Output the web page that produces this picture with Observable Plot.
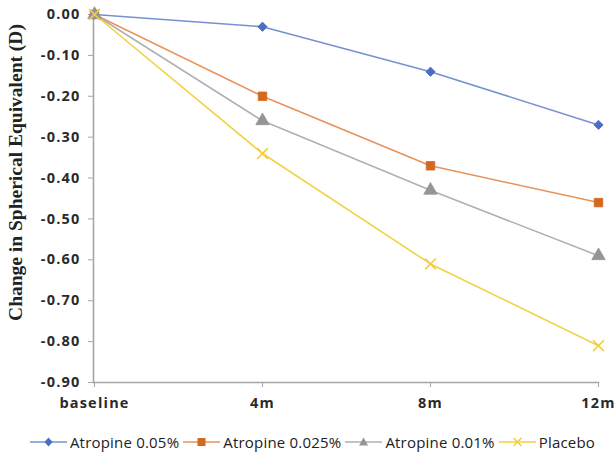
<!DOCTYPE html>
<html>
<head>
<meta charset="utf-8">
<script src="https://cdn.jsdelivr.net/npm/d3@7"></script>
<script src="https://cdn.jsdelivr.net/npm/@observablehq/plot@0.6"></script>
<style>
  body { margin: 0; background: #fff; width: 615px; overflow: hidden; }
  #legend { display: flex; justify-content: center; align-items: center; height: 34px;
    font-family: "Open Sans", sans-serif; font-size: 15px; color: #222; letter-spacing: 0.2px; margin-left: 10px; }
  .item { display: flex; align-items: center; margin: 0 2px; }
  .item svg { margin-right: 3px; }
</style>
</head>
<body>
<div id="chart"></div>
<div id="legend"></div>
<script>
const categories = ["baseline", "4m", "8m", "12m"];
const seriesNames = ["Atropine 0.05%", "Atropine 0.025%", "Atropine 0.01%", "Placebo"];
const atropine005 = [0, -0.03, -0.14, -0.27];
const atropine0025 = [0, -0.20, -0.37, -0.46];
const atropine001 = [0, -0.26, -0.43, -0.59];
const placebo = [0, -0.34, -0.61, -0.81];
const yTicks = [0, -0.1, -0.2, -0.3, -0.4, -0.5, -0.6, -0.7, -0.8, -0.9];
const yLabel = "Change in Spherical Equivalent (D)";

const lineColors = ["#7592d0", "#e6935c", "#b0b0b0", "#f3d146"];
const markColors = ["#4a6fc2", "#d2691e", "#959595", "#f2cd3a"];
const symbols = ["diamond2", "square", "triangle", "times"];
const radii = [4.2, 4.8, 5, 5];

const allValues = [atropine005, atropine0025, atropine001, placebo];
const data = [];
allValues.forEach((vals, s) => vals.forEach((v, i) => data.push({series: seriesNames[s], cat: categories[i], value: v})));

const marks = [
  Plot.frame({anchor: "left", stroke: "#a6a6a6", strokeWidth: 1.6}),
  Plot.frame({anchor: "bottom", stroke: "#a6a6a6", strokeWidth: 1.6}),
  Plot.axisY({ticks: yTicks, tickSize: 5, tickPadding: 8, tickFormat: d => d.toFixed(2), label: null,
    stroke: "#a6a6a6", fill: "#2a2a2a", fontSize: 14.5, fontWeight: "bold"}),
  Plot.axisX({tickSize: 5, tickPadding: 10, label: null, stroke: "#a6a6a6", fill: "#2a2a2a", fontSize: 14.5, fontWeight: "bold"}),
  Plot.text([yLabel], {frameAnchor: "left", textAnchor: "middle", dx: -78, dy: -26, rotate: -90, fontSize: 19.5, fontWeight: "bold",
    fontFamily: "Liberation Serif, serif", fill: "#222"})
];
seriesNames.forEach((name, s) => {
  const d = data.filter(r => r.series === name);
  marks.push(Plot.line(d, {x: "cat", y: "value", stroke: lineColors[s], strokeWidth: 1.6}));
});
seriesNames.forEach((name, s) => {
  const d = data.filter(r => r.series === name);
  const filled = symbols[s] !== "times";
  marks.push(Plot.dot(d, {x: "cat", y: "value", symbol: () => symbols[s], r: radii[s],
    fill: filled ? markColors[s] : "none", stroke: markColors[s], strokeWidth: filled ? 0.8 : 1.6}));
});

const chart = Plot.plot({
  width: 615,
  height: 425,
  marginTop: 14,
  marginBottom: 43,
  marginLeft: 93,
  marginRight: 17,
  style: {fontFamily: "Open Sans, sans-serif", fontSize: "14px", letterSpacing: "1.2px", background: "#fff"},
  x: {type: "point", domain: categories, padding: 0},
  y: {domain: [-0.9, 0]},
  symbol: {type: "identity"},
  marks
});
chart.querySelectorAll("text").forEach(t => { if (t.textContent === yLabel) t.setAttribute("letter-spacing", "0"); });
document.getElementById("chart").appendChild(chart);

const legend = document.getElementById("legend");
seriesNames.forEach((name, s) => {
  const item = document.createElement("div");
  item.className = "item";
  const w = 37;
  let shape;
  if (s === 0) shape = `<path d="M${w/2},1.5 L${w/2+4},6 L${w/2},10.5 L${w/2-4},6 Z" fill="${markColors[s]}"/>`;
  else if (s === 1) shape = `<rect x="${w/2-4}" y="2" width="8" height="8" fill="${markColors[s]}"/>`;
  else if (s === 2) shape = `<path d="M${w/2},1.5 L${w/2+4.5},9.5 L${w/2-4.5},9.5 Z" fill="${markColors[s]}"/>`;
  else shape = `<path d="M${w/2-4},2 L${w/2+4},10 M${w/2+4},2 L${w/2-4},10" stroke="${markColors[s]}" stroke-width="1.5"/>`;
  item.innerHTML = `<svg width="${w}" height="12"><line x1="0" y1="6" x2="${w}" y2="6" stroke="${lineColors[s]}" stroke-width="1.6"/>${shape}</svg><span>${name}</span>`;
  legend.appendChild(item);
});
</script>
</body>
</html>
